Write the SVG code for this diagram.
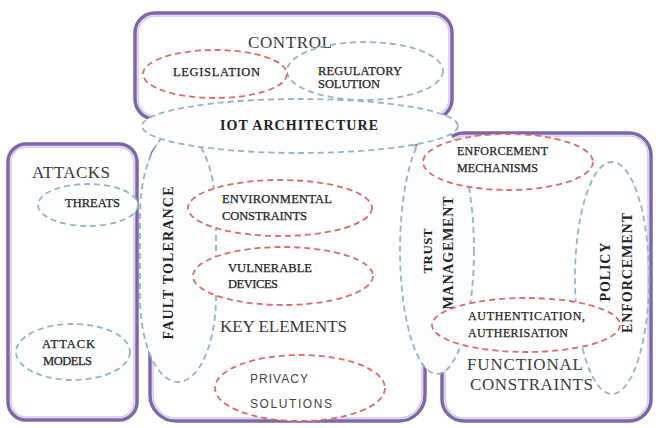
<svg xmlns="http://www.w3.org/2000/svg" width="656" height="428" viewBox="0 0 656 428">
<style>
.box{fill:#fff;stroke:#7d67aa;stroke-width:3.5}
.boxin{fill:none;stroke:#d3c9e6;stroke-width:1.5}
.b{fill:#fbfdfe;stroke:#94b4c8;stroke-width:1.8;stroke-dasharray:6 4}
.bn{fill:none;stroke:#94b4c8;stroke-width:1.8;stroke-dasharray:6 4}
.r{fill:#fff;stroke:#e06a6a;stroke-width:1.8;stroke-dasharray:6 4}
.t{font-family:"Liberation Serif","Times New Roman",serif;fill:#333}
.s{font-size:12.5px;fill:#222;stroke:#222;stroke-width:0.25}
.m{font-size:12px;fill:#222;stroke:#222;stroke-width:0.25}
.big{font-size:17px;fill:#3a3a3a}
.bd{font-weight:bold;fill:#222}
.sans{font-family:"Liberation Sans",Arial,sans-serif;font-size:12px;fill:#444}
</style>
<defs>
<mask id="m-auth" maskUnits="userSpaceOnUse" x="0" y="0" width="656" height="428">
<rect x="0" y="0" width="656" height="428" fill="#fff"/>
<ellipse cx="526" cy="325" rx="94" ry="27" fill="#000"/>
</mask>
</defs>
<rect x="0" y="0" width="656" height="428" fill="#fff"/>

<g id="control">
<rect class="box" x="135" y="13" width="317" height="106" rx="20"/>
<rect class="boxin" x="138" y="16" width="311" height="100" rx="17"/>
<text class="t big" x="248" y="48" textLength="84">CONTROL</text>
</g>
<g id="attacks">
<rect class="box" x="8" y="144" width="129" height="276" rx="18"/>
<rect class="boxin" x="11" y="147" width="123" height="270" rx="15"/>
<text class="t big" x="32" y="178" textLength="78">ATTACKS</text>
</g>
<g id="key-elements">
<rect class="box" x="150" y="138" width="275" height="283" rx="26"/>
<rect class="boxin" x="153" y="141" width="269" height="277" rx="23"/>
<text class="t big" x="220" y="332" textLength="127">KEY ELEMENTS</text>
</g>
<g id="functional-constraints">
<rect class="box" x="442" y="133" width="209" height="288" rx="22"/>
<rect class="boxin" x="445" y="136" width="203" height="282" rx="19"/>
<text class="t big" x="467" y="370" textLength="116">FUNCTIONAL</text>
<text class="t big" x="470" y="390" textLength="123">CONSTRAINTS</text>
</g>

<g id="regulatory-solution">
<ellipse class="bn" cx="365" cy="71" rx="78" ry="29"/>
<text class="t s" x="318" y="75" textLength="84">REGULATORY</text>
<text class="t s" x="318" y="88" textLength="62">SOLUTION</text>
</g>
<g id="threats">
<ellipse class="b" cx="88" cy="205" rx="50" ry="21"/>
<text class="t s" x="65" y="207" textLength="55">THREATS</text>
</g>
<g id="attack-models">
<ellipse class="b" cx="73" cy="352" rx="57" ry="28"/>
<text class="t s" x="42" y="348" textLength="53">ATTACK</text>
<text class="t s" x="43" y="365" textLength="49">MODELS</text>
</g>
<g id="fault-tolerance">
<rect class="b" x="140" y="130" width="76" height="252" rx="38" ry="85"/>
<text class="t bd" font-size="14" transform="translate(173,263) rotate(-90)" text-anchor="middle" textLength="153">FAULT TOLERANCE</text>
</g>
<g id="trust-management">
<ellipse class="b" cx="437" cy="250" rx="37" ry="124"/>
<text class="t bd" font-size="13" transform="translate(432,251) rotate(-90)" text-anchor="middle" textLength="45">TRUST</text>
<text class="t bd" font-size="14" transform="translate(453,253) rotate(-90)" text-anchor="middle" textLength="113">MANAGEMENT</text>
</g>
<g id="iot-architecture">
<ellipse class="b" cx="300" cy="126" rx="158" ry="27"/>
<text class="t bd" font-size="14" x="220" y="130" textLength="158">IOT ARCHITECTURE</text>
</g>

<g id="legislation">
<ellipse class="r" cx="215" cy="74" rx="72" ry="24"/>
<text class="t s" x="173" y="76" textLength="87">LEGISLATION</text>
</g>
<g id="environmental-constraints">
<ellipse class="r" cx="280" cy="208" rx="92" ry="28"/>
<text class="t s" x="222" y="203" textLength="110">ENVIRONMENTAL</text>
<text class="t s" x="222" y="220" textLength="85">CONSTRAINTS</text>
</g>
<g id="vulnerable-devices">
<ellipse class="r" cx="283" cy="276" rx="90" ry="29"/>
<text class="t s" x="228" y="272" textLength="84">VULNERABLE</text>
<text class="t s" x="228" y="288" textLength="50">DEVICES</text>
</g>
<g id="privacy-solutions">
<ellipse class="r" cx="300" cy="388" rx="85" ry="33"/>
<text class="sans" x="250" y="383" textLength="58">PRIVACY</text>
<text class="sans" x="250" y="408" textLength="82">SOLUTIONS</text>
</g>
<g id="enforcement-mechanisms">
<ellipse class="r" cx="508" cy="162" rx="85" ry="28"/>
<text class="t m" x="457" y="155" textLength="91">ENFORCEMENT</text>
<text class="t m" x="457" y="172" textLength="81">MECHANISMS</text>
</g>
<g id="authentication">
<ellipse class="r" cx="526" cy="325" rx="94" ry="27"/>
<text class="t m" x="468" y="320" textLength="117">AUTHENTICATION,</text>
<text class="t m" x="468" y="337" textLength="100">AUTHERISATION</text>
</g>
<g id="policy-enforcement">
<ellipse class="bn" cx="612" cy="278" rx="37" ry="116" mask="url(#m-auth)"/>
<text class="t bd" font-size="14" transform="translate(610,272) rotate(-90)" text-anchor="middle" textLength="59">POLICY</text>
<text class="t bd" font-size="14" transform="translate(632,273) rotate(-90)" text-anchor="middle" textLength="120">ENFORCEMENT</text>
</g>
<g id="connectors"/>
</svg>
